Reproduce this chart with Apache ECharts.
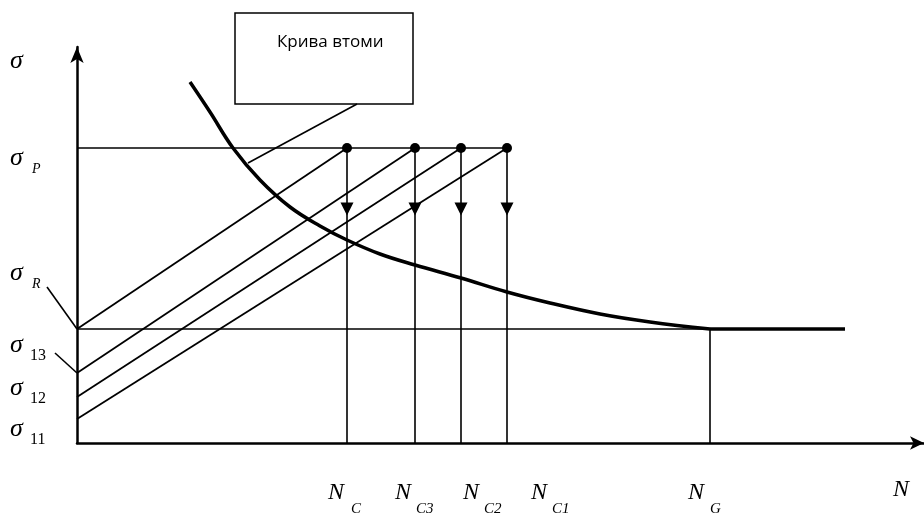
<!DOCTYPE html>
<html><head><meta charset="utf-8">
<script src="https://cdn.jsdelivr.net/npm/echarts@6/dist/echarts.min.js"></script>
<style>html,body{margin:0;padding:0;background:#fff}#c{width:924px;height:513px}</style>
</head><body><div id="c"></div>
<script>
// ---- data (schematic units) ----
const sigmaP = 295;
const sigmaR = 114;
const sigmaStarts = [114, 70, 46, 24];          // σR, σ13, σ12, σ11
const nBreak = [270, 338, 384, 430];            // NC, NC3, NC2, NC1
const nG = 633;
const curveEnd = 768;
const curveX = [113, 133, 156, 183, 213, 243, 270, 303, 338, 384, 430, 473, 523, 573, 633];
const curveY = [361, 331, 295, 263, 236, 217, 203, 189, 178, 165, 151, 140, 129, 121, 114];
const arrowY = 234;
const calloutLine = [[280, 339], [171, 280]];
const pointerR = [[-30, 156], [0, 114]];
const pointer13 = [[-22, 90], [0, 70]];
const xMax = 847, yMax = 396;

const chart = echarts.init(document.getElementById('c'));
function seg(pts, w) {
  return { type: 'line', data: pts, symbol: 'none', clip: false, silent: true,
    lineStyle: { color: '#000', width: w || 1.6 }, z: 2 };
}
const series = [];
series.push(seg([[0, sigmaP], [nBreak[3], sigmaP]]));
series.push(seg([[0, sigmaR], [nG, sigmaR]]));
nBreak.forEach((n, i) => {
  series.push(seg([[0, sigmaStarts[i]], [n, sigmaP]], 1.8));
  series.push(seg([[n, sigmaP], [n, 0]]));
});
series.push(seg([[nG, sigmaR], [nG, 0]]));
series.push(seg(calloutLine));
series.push({ type: 'line', data: curveX.map((x, i) => [x, curveY[i]]), symbol: 'none',
  smooth: 0.4, lineStyle: { color: '#000', width: 3.5 }, z: 3 });
series.push(seg([[nG, sigmaR], [curveEnd, sigmaR]], 3.5));
series.push({ type: 'scatter', data: nBreak.map(n => [n, sigmaP]), symbol: 'circle', symbolSize: 10,
  itemStyle: { color: '#000', opacity: 1 }, z: 4 });
series.push({ type: 'scatter', data: nBreak.map(n => [n, arrowY]), symbol: 'path://M0,0 L10,0 L5,10 Z',
  symbolSize: [13, 13], itemStyle: { color: '#000', opacity: 1 }, z: 4 });

const serif = '"Liberation Serif", "DejaVu Serif", serif';
function txt(s, x, y, size, italic) {
  return { type: 'text', left: x, top: y, silent: true,
    style: { text: s, font: (italic ? 'italic ' : '') + size + 'px ' + serif, fill: '#000' } };
}
const baseGraphics = [
  { type: 'rect', shape: { x: 235, y: 13, width: 178, height: 91 },
    style: { fill: '#fff', stroke: '#000', lineWidth: 1.5 } },
  { type: 'text', left: 277, top: 34, style: { text: 'Крива втоми', font: '17px "Open Sans", sans-serif', fill: '#000' } },
  txt('σ', 10, 48, 26, true),
  txt('σ', 10, 145, 26, true), txt('P', 32, 162, 14, true),
  txt('σ', 10, 260, 26, true), txt('R', 32, 277, 14, true),
  txt('σ', 10, 332, 26, true), txt('13', 30, 348, 16, false),
  txt('σ', 10, 375, 26, true), txt('12', 30, 391, 16, false),
  txt('σ', 10, 416, 26, true), txt('11', 30, 432, 16, false),
  txt('N', 328, 481, 24, true), txt('C', 351, 502, 15, true),
  txt('N', 395, 481, 24, true), txt('C3', 416, 502, 15, true),
  txt('N', 463, 481, 24, true), txt('C2', 484, 502, 15, true),
  txt('N', 531, 481, 24, true), txt('C1', 552, 502, 15, true),
  txt('N', 688, 481, 24, true), txt('G', 710, 502, 15, true),
  txt('N', 893, 478, 24, true)
];

const option = {
  animation: false,
  grid: { left: 77, top: 443 - yMax, width: xMax, height: yMax },
  xAxis: { type: 'value', min: 0, max: xMax, splitLine: { show: false },
    axisLine: { show: true, lineStyle: { color: '#000', width: 2.5 }, symbol: ['none', 'arrow'], symbolSize: [10, 14] },
    axisTick: { show: false }, axisLabel: { show: false } },
  yAxis: { type: 'value', min: 0, max: yMax, splitLine: { show: false },
    axisLine: { show: true, lineStyle: { color: '#000', width: 2.5 }, symbol: ['none', 'arrow'], symbolSize: [10, 16] },
    axisTick: { show: false }, axisLabel: { show: false } },
  series: series,
  graphic: baseGraphics
};
chart.setOption(option);
// pointer lines from labels to axis (outside the plot area) placed through the axes
const pointerGraphics = [pointerR, pointer13].map(p => {
  const a = chart.convertToPixel({ gridIndex: 0 }, p[0]);
  const b = chart.convertToPixel({ gridIndex: 0 }, p[1]);
  return { type: 'line', shape: { x1: a[0], y1: a[1], x2: b[0], y2: b[1] },
    style: { stroke: '#000', lineWidth: 1.6 }, silent: true };
});
chart.setOption({ graphic: baseGraphics.concat(pointerGraphics) });
</script></body></html>
